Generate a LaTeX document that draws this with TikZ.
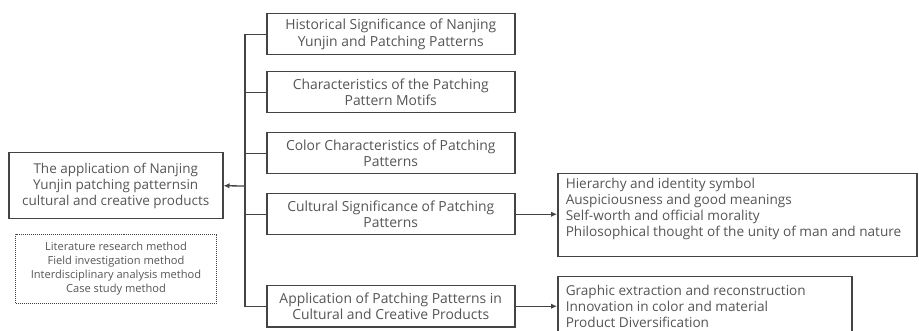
\documentclass[tikz,border=0pt]{standalone}
\usepackage{fontspec}
\setmainfont{Open Sans}
\usetikzlibrary{arrows.meta}
\definecolor{ln}{HTML}{444444}
\definecolor{tx}{HTML}{555555}
\begin{document}
\begin{tikzpicture}[x=1pt,y=1pt,
  box/.style={draw=ln,line width=1.5pt,text=tx,font=\fontsize{13.9}{16.8}\selectfont,align=center,inner sep=0pt,minimum width=248pt,minimum height=41pt,anchor=north west},
  rbox/.style={draw=ln,line width=1.5pt,text=tx,font=\fontsize{13.6}{16}\selectfont,inner xsep=8pt,inner ysep=4pt,anchor=north west},
  conn/.style={draw=ln,line width=1.3pt},
  arr/.style={conn,-{Latex[length=6pt,width=5.5pt]}}]
\useasboundingbox (0,0) rectangle (919,-331);
\clip (0,0) rectangle (919,-331);
\node[box,minimum width=214pt,minimum height=66pt,font=\fontsize{13.5}{16}\selectfont] (root) at (8,-152) {The application of Nanjing\\Yunjin patching patternsin\\cultural and creative products};
\node[draw=ln,densely dotted,line width=1pt,text=tx,font=\fontsize{11.1}{14}\selectfont,align=center,minimum width=201pt,minimum height=69pt,inner sep=0pt,anchor=north west] (m) at (15,-234) {Literature research method\\Field investigation method\\Interdisciplinary analysis method\\Case study method};
\node[box] (b1) at (266,-13) {Historical Significance of Nanjing\\Yunjin and Patching Patterns};
\node[box] (b2) at (266,-71) {Characteristics of the Patching\\Pattern Motifs};
\node[box] (b3) at (266,-132) {Color Characteristics of Patching\\Patterns};
\node[box] (b4) at (266,-193) {Cultural Significance of Patching\\Patterns};
\node[box] (b5) at (266,-285) {Application of Patching Patterns in\\Cultural and Creative Products};
\node[rbox] (r1) at (557,-173) {\parbox[c][75pt][t]{343pt}{\raggedright Hierarchy and identity symbol\\Auspiciousness and good meanings\\Self-worth and official morality\\Philosophical thought of the unity of man and nature}};
\node[rbox,inner ysep=8pt] (r2) at (557,-276) {\parbox[c][60pt][t]{278pt}{\raggedright Graphic extraction and reconstruction\\Innovation in color and material\\Product Diversification}};
\coordinate (j) at (245,-186);
\draw[conn] (b1.west) -- (b1.west -| j) |- (b5.west);
\draw[conn] (b2.west) -- (b2.west -| j);
\draw[conn] (b3.west) -- (b3.west -| j);
\draw[conn] (b4.west) -- (b4.west -| j);
\draw[arr] (j) -- (root.east);
\draw[arr] (b4.east) -- (b4.east -| r1.west);
\draw[arr] (b5.east) -- (b5.east -| r2.west);
\end{tikzpicture}
\end{document}
